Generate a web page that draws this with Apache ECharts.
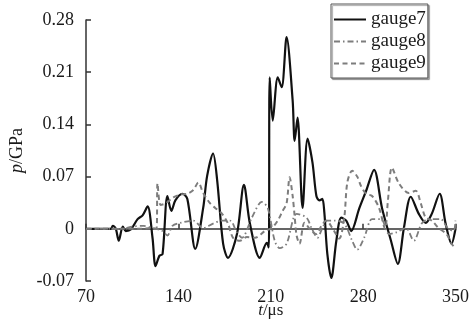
<!DOCTYPE html>
<html>
<head>
<meta charset="utf-8">
<script src="https://cdn.jsdelivr.net/npm/echarts@6/dist/echarts.min.js"></script>
<style>
  html, body { margin: 0; padding: 0; background: #fff; }
  #chart { width: 472px; height: 336px; }
</style>
</head>
<body>
<div id="chart"></div>
<script>
// axis ticks
const T_TICKS = [70, 140, 210, 280, 350];
const P_TICKS = [-0.07, 0, 0.07, 0.14, 0.21, 0.28];

// gauge7 (solid)
const gauge7T = [70, 88.8, 90.3, 92.6, 94.8, 97.9, 100.1, 103.9, 109.1, 112.9, 116.7, 120.4, 122.7, 125.7, 128.0,
  131.7, 134.7, 137.7, 143.0, 146.8, 152.8, 158.8, 161.8, 166.3, 169.4, 173.9, 177.6, 184.4, 189.7, 194.2,
  201.7, 207.0, 208.5, 209.2, 211.5, 215.3, 218.3, 222.0, 226.6, 228.1, 230.3, 234.1, 237.9, 241.6, 244.6,
  246.9, 249.1, 250.6, 252.9, 255.9, 259.7, 263.4, 267.2, 271.0, 277.0, 282.3, 288.3, 294.3, 301.1, 306.3,
  310.9, 316.1, 322.2, 327.4, 332.0, 338.0, 342.5, 347.0, 350];
const gauge7P = [0, 0, 0.004, 0, -0.016, 0.003, -0.003, -0.001, 0.013, 0.018, 0.030, -0.012, -0.050, -0.036, -0.034,
  0.044, 0.024, 0.038, 0.047, 0.040, -0.027, 0.028, 0.071, 0.101, 0.065, -0.020, -0.039, -0.007, 0.059, 0.007,
  -0.039, -0.019, -0.025, 0.203, 0.145, 0.203, 0.190, 0.257, 0.172, 0.118, 0.149, 0.028, 0.121, 0.089, 0.044,
  0.038, 0.040, 0.022, -0.034, -0.066, -0.016, 0.015, 0.011, -0.003, 0.027, 0.051, 0.079, 0.028, -0.016, -0.047,
  0.001, 0.043, 0.020, 0.008, 0.020, 0.047, 0.007, -0.020, 0];

// gauge8 (dash-dot)
const gauge8T = [70, 96.3, 105.4, 113.7, 120.4, 128.0, 131.7, 135.5, 141.5, 151.3, 158.8, 166.3, 173.1, 179.1,
  184.4, 188.2, 195.7, 203.2, 207.7, 213.0, 216.8, 222.0, 229.6, 237.1, 240.9, 245.4, 249.1, 252.9, 258.2,
  265.7, 271.7, 275.5, 280.8, 286.8, 293.6, 299.6, 304.8, 312.4, 318.4, 324.4, 329.7, 338.7, 344.0, 348.5, 350];
const gauge8P = [0, 0, 0.003, 0.004, 0.001, -0.003, -0.009, 0.004, 0.008, 0.011, 0.001, 0.007, 0.011, 0.011,
  -0.005, -0.012, 0.015, 0.036, 0.028, -0.016, -0.026, -0.020, 0.020, 0.015, 0.001, -0.012, 0.001, 0.011, 0.011,
  0.007, -0.016, -0.028, -0.012, 0.013, 0.013, -0.007, -0.005, 0.001, -0.016, 0.007, 0.013, 0.013, 0.001, -0.003, 0.011];

// gauge9 (dashed)
const gauge9T = [70, 96.3, 111.4, 118.9, 123.4, 124.2, 126.5, 130.2, 136.2, 141.5, 146.8, 151.3, 155.1, 158.8,
  164.1, 167.9, 173.1, 177.6, 181.4, 186.7, 191.9, 198.0, 205.5, 210.8, 215.3, 219.0, 222.0, 224.3, 226.6,
  228.1, 229.6, 231.8, 235.6, 240.9, 244.6, 248.4, 252.2, 256.7, 261.9, 265.7, 268.0, 271.7, 275.5, 278.5,
  282.3, 286.8, 292.1, 296.6, 298.8, 301.8, 307.1, 314.6, 319.9, 323.7, 327.4, 332.0, 337.2, 343.2, 347.0, 350];
const gauge9P = [0, 0, 0, 0.001, 0, 0.061, 0.032, 0.034, 0.042, 0.046, 0.047, 0.052, 0.062, 0.048,
  0.034, 0.028, 0.020, 0.007, -0.012, -0.016, -0.011, -0.012, -0.003, 0.001, 0.011, 0.024, 0.034, 0.069, 0.044,
  0.017, -0.009, -0.020, 0.008, -0.003, -0.007, 0.004, 0.011, 0.001, -0.013, 0.015, 0.062, 0.078, 0.070, 0.057,
  0.047, 0.044, 0.028, 0, 0.038, 0.082, 0.061, 0.048, 0.051, 0.034, 0.015, 0.011, 0.001, -0.007, -0.020, -0.026];

const SERIF = '"Liberation Serif", "DejaVu Serif", serif';
const AXIS_COLOR = '#333';
const TEXT_COLOR = '#1a1a1a';
const GRAY = '#7d7d7d';

const zip = (xs, ys) => xs.map((x, i) => [x, ys[i]]);

const chart = echarts.init(document.getElementById('chart'), null, { renderer: 'canvas' });

const lineSeries = (name, t, p, color, width, type) => ({
  name: name,
  type: 'line',
  data: zip(t, p),
  smooth: 0.3,
  symbol: 'none',
  lineStyle: { color: color, width: width, type: type },
  itemStyle: { color: color },
  animation: false
});

const axisName = (size) => ({
  fontFamily: SERIF, fontSize: size, color: TEXT_COLOR,
  rich: { i: { fontFamily: SERIF, fontSize: size, fontStyle: 'italic', color: TEXT_COLOR } }
});

chart.setOption({
  backgroundColor: '#fff',
  animation: false,
  grid: { left: 85, right: 15, top: 20, bottom: 55 },
  legend: {
    orient: 'vertical',
    left: 331,
    top: 4,
    padding: [6, 2, 5, 2],
    itemGap: 3,
    itemWidth: 32,
    itemHeight: 14,
    borderColor: '#555',
    borderWidth: 1,
    backgroundColor: '#fff',
    shadowColor: 'rgba(0,0,0,0.35)',
    shadowOffsetX: 1.5,
    shadowOffsetY: 1.5,
    shadowBlur: 1,
    // hide the marker dot, keep the line sample
    itemStyle: { opacity: 0 },
    textStyle: { fontFamily: SERIF, fontSize: 19, color: TEXT_COLOR, lineHeight: 18 },
    data: ['gauge7', 'gauge8', 'gauge9']
  },
  xAxis: {
    type: 'value',
    min: T_TICKS[0],
    max: T_TICKS[T_TICKS.length - 1],
    interval: T_TICKS[1] - T_TICKS[0],
    name: '{i|t}/μs',
    nameLocation: 'middle',
    nameGap: 21,
    nameMoveOverlap: false,
    nameTextStyle: axisName(17),
    axisLine: { show: true, lineStyle: { color: AXIS_COLOR, width: 1.5 } },
    axisTick: { show: true, inside: true, length: 5, lineStyle: { color: AXIS_COLOR, width: 1.5 } },
    axisLabel: { fontFamily: SERIF, fontSize: 18, color: TEXT_COLOR, margin: 7 },
    splitLine: { show: false }
  },
  yAxis: {
    type: 'value',
    min: P_TICKS[0],
    max: P_TICKS[P_TICKS.length - 1],
    interval: 0.07,
    name: '{i|p}/GPa',
    nameLocation: 'middle',
    nameRotate: 90,
    nameGap: 60,
    nameMoveOverlap: false,
    nameTextStyle: axisName(18),
    axisLine: { show: true, lineStyle: { color: AXIS_COLOR, width: 1.5 } },
    axisTick: { show: true, inside: true, length: 5, lineStyle: { color: AXIS_COLOR, width: 1.5 } },
    axisLabel: {
      fontFamily: SERIF, fontSize: 18, color: TEXT_COLOR, margin: 12,
      formatter: (v) => Math.abs(v) < 1e-9 ? '0' : v.toFixed(2)
    },
    splitLine: { show: false }
  },
  series: [
    lineSeries('gauge7', gauge7T, gauge7P, '#111', 2.2, 'solid'),
    lineSeries('gauge8', gauge8T, gauge8P, GRAY, 1.8, [6, 3, 1.5, 3]),
    lineSeries('gauge9', gauge9T, gauge9P, GRAY, 2, [5, 3.5])
  ]
});
</script>
</body>
</html>
